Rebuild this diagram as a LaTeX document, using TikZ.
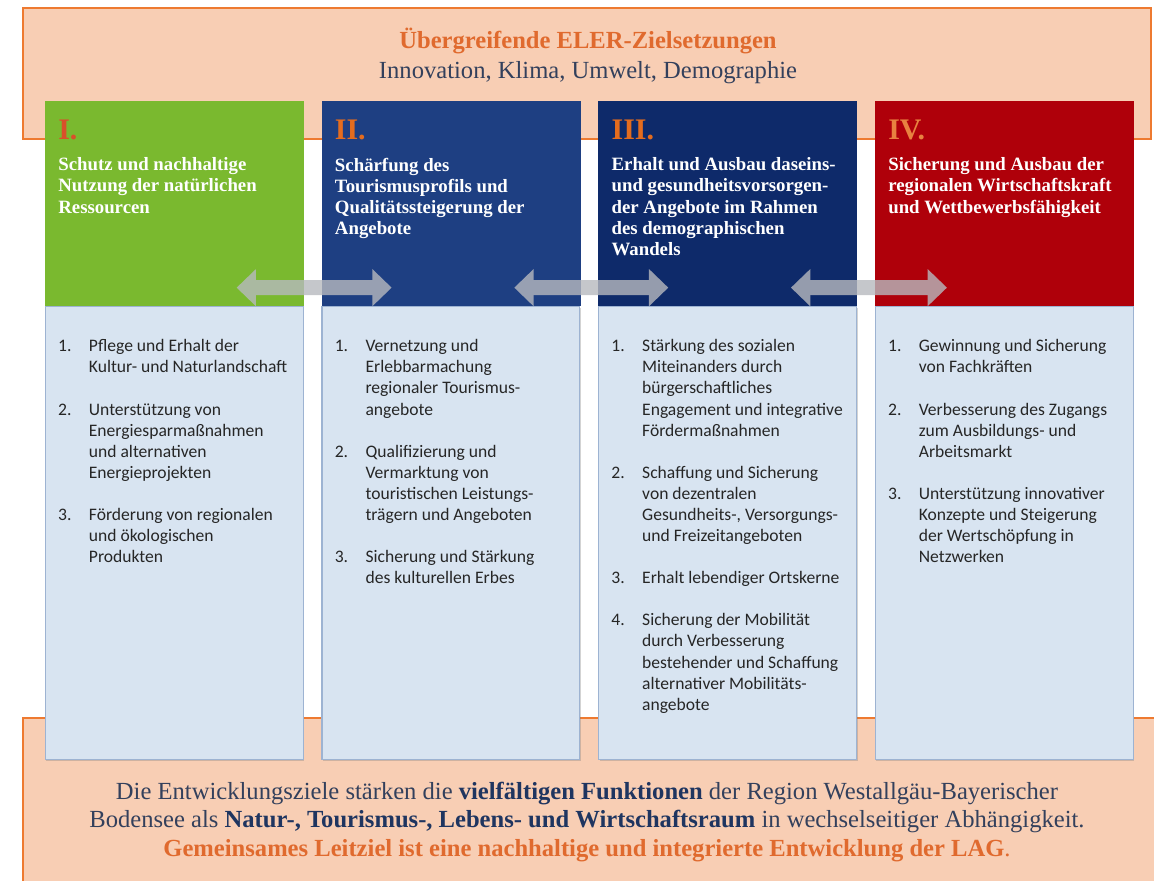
\documentclass[tikz,border=0pt]{standalone}
\usepackage{fontspec}
\setmainfont{Liberation Serif}
\newfontfamily\calfont{Carlito}
\usepackage{xcolor}
\usetikzlibrary{arrows.meta,positioning,calc,shadows}
\definecolor{peach}{HTML}{F8CEB4}
\definecolor{elerorange}{HTML}{EE7A30}
\definecolor{titleorange}{HTML}{E06A2E}
\definecolor{slate}{HTML}{33405C}
\definecolor{navy}{HTML}{1F3560}
\definecolor{leafgreen}{HTML}{7AB92F}
\definecolor{tourblue}{HTML}{1E3F82}
\definecolor{demonavy}{HTML}{0E2A6A}
\definecolor{econred}{HTML}{AF000A}
\definecolor{paleblue}{HTML}{D8E4F1}
\definecolor{paleedge}{HTML}{9DB3D2}
\definecolor{numorange}{HTML}{E46C1E}
\definecolor{numred}{HTML}{D9502A}
\definecolor{linkgrey}{HTML}{B7B9BE}
\definecolor{ink}{HTML}{262626}
\newcommand{\goallist}[1]{\begin{tabular}{@{}p{17.5pt}@{}l@{}}#1\end{tabular}}
\tikzset{
  banner/.style={rectangle, fill=peach, draw=elerorange, line width=1.4pt,
    inner sep=0pt, anchor=north west},
  headbox/.style={rectangle, fill=#1, draw=#1,
    minimum width=5.16cm, minimum height=4.08cm, inner sep=0pt},
  bodybox/.style={rectangle, fill=paleblue, draw=paleedge, line width=0.6pt,
    minimum width=5.16cm, minimum height=9.06cm, inner sep=0pt,
    drop shadow={shadow xshift=0.6pt, shadow yshift=-1.2pt, opacity=.35}},
  numlabel/.style={font=\fontsize{17}{17}\selectfont\bfseries, text=#1, inner sep=0pt},
  numlabel/.default=numorange,
  headtext/.style={font=\fontsize{10.7}{12}\selectfont\bfseries, text=white,
    align=left, inner sep=0pt},
  goaltext/.style={font=\calfont\fontsize{10}{12}\selectfont, text=ink, inner sep=0pt},
  linkarrow/.style={line width=8.5pt, draw=linkgrey,
    {Triangle[length=11pt,width=20.5pt]}-{Triangle[length=11pt,width=20.5pt]}},
}
\begin{document}
\begin{tikzpicture}[x=0.02cm, y=-0.02cm]
    \useasboundingbox (0,0) rectangle (1154,881);
    \node[banner, minimum width=22.56cm, minimum height=2.62cm] (eler) at (22,7) {};
    \node[banner, minimum width=22.8cm, minimum height=3.6cm] (region) at (22,717) {};
    \node[font=\fontsize{14}{17}\selectfont, text=slate, align=center, anchor=north] (elertitle) at (588,22)
      {\textcolor{titleorange}{\textbf{Übergreifende ELER-Zielsetzungen}}\\Innovation, Klima, Umwelt, Demographie};

    \node[headbox=leafgreen, anchor=north west] (head1) at (45,101) {};
    \node[headbox=tourblue, right=0.36cm of head1] (head2) {};
    \node[headbox=demonavy, right=0.36cm of head2] (head3) {};
    \node[headbox=econred, right=0.36cm of head3] (head4) {};
    \node[bodybox, below=0pt of head1] (body1) {};
    \node[bodybox, below=0pt of head2] (body2) {};
    \node[bodybox, below=0pt of head3] (body3) {};
    \node[bodybox, below=0pt of head4] (body4) {};

    \node[numlabel=numred, below right=0.38cm and 0.26cm of head1.north west] (num1) {I.};
    \node[numlabel, below right=0.38cm and 0.26cm of head2.north west] (num2) {II.};
    \node[numlabel, below right=0.38cm and 0.26cm of head3.north west] (num3) {III.};
    \node[numlabel=numorange!85!white, below right=0.38cm and 0.26cm of head4.north west] (num4) {IV.};

    \node[headtext, below right=1.13cm and 0.26cm of head1.north west] (aim1)
      {Schutz und nachhaltige\\Nutzung der natürlichen\\Ressourcen};
    \node[headtext, below right=1.13cm and 0.26cm of head2.north west] (aim2)
      {Schärfung des\\Tourismusprofils und\\Qualitätssteigerung der\\Angebote};
    \node[headtext, below right=1.13cm and 0.26cm of head3.north west] (aim3)
      {Erhalt und Ausbau daseins-\\und gesundheitsvorsorgen-\\der Angebote im Rahmen\\des demographischen\\Wandels};
    \node[headtext, below right=1.13cm and 0.26cm of head4.north west] (aim4)
      {Sicherung und Ausbau der\\regionalen Wirtschaftskraft\\und Wettbewerbsfähigkeit};

    \node[goaltext, below right=0.62cm and 0.26cm of body1.north west] (goals1) {\goallist{
      1. & Pflege und Erhalt der\\ & Kultur- und Naturlandschaft\\[12pt]
      2. & Unterstützung von\\ & Energiesparmaßnahmen\\ & und alternativen\\ & Energieprojekten\\[12pt]
      3. & Förderung von regionalen\\ & und ökologischen\\ & Produkten}};
    \node[goaltext, below right=0.62cm and 0.26cm of body2.north west] (goals2) {\goallist{
      1. & Vernetzung und\\ & Erlebbarmachung\\ & regionaler Tourismus-\\ & angebote\\[12pt]
      2. & Qualifizierung und\\ & Vermarktung von\\ & touristischen Leistungs-\\ & trägern und Angeboten\\[12pt]
      3. & Sicherung und Stärkung\\ & des kulturellen Erbes}};
    \node[goaltext, below right=0.62cm and 0.26cm of body3.north west] (goals3) {\goallist{
      1. & Stärkung des sozialen\\ & Miteinanders durch\\ & bürgerschaftliches\\ & Engagement und integrative\\ & Fördermaßnahmen\\[12pt]
      2. & Schaffung und Sicherung\\ & von dezentralen\\ & Gesundheits-, Versorgungs-\\ & und Freizeitangeboten\\[12pt]
      3. & Erhalt lebendiger Ortskerne\\[12pt]
      4. & Sicherung der Mobilität\\ & durch Verbesserung\\ & bestehender und Schaffung\\ & alternativer Mobilitäts-\\ & angebote}};
    \node[goaltext, below right=0.62cm and 0.26cm of body4.north west] (goals4) {\goallist{
      1. & Gewinnung und Sicherung\\ & von Fachkräften\\[12pt]
      2. & Verbesserung des Zugangs\\ & zum Ausbildungs- und\\ & Arbeitsmarkt\\[12pt]
      3. & Unterstützung innovativer\\ & Konzepte und Steigerung\\ & der Wertschöpfung in\\ & Netzwerken}};

    \coordinate (link1a) at ($(head1.south east)+(-67,-18)$);
    \coordinate (link1b) at ($(head2.south west)+(70,-18)$);
    \coordinate (link2a) at ($(head2.south east)+(-66,-18)$);
    \coordinate (link2b) at ($(head3.south west)+(70,-18)$);
    \coordinate (link3a) at ($(head3.south east)+(-66,-18)$);
    \coordinate (link3b) at ($(head4.south west)+(72,-18)$);
    \begin{scope}[transparency group, opacity=.8]
      \draw[linkarrow] (link1a) -- (link1b);
      \draw[linkarrow] (link2a) -- (link2b);
      \draw[linkarrow] (link3a) -- (link3b);
    \end{scope}

    \node[font=\fontsize{14}{16.2}\selectfont, text=slate, align=center, anchor=north] (summary) at (587,776)
      {Die Entwicklungsziele stärken die \textbf{\color{navy}vielfältigen Funktionen} der Region Westallgäu-Bayerischer\\
       Bodensee als \textbf{\color{navy}Natur-, Tourismus-, Lebens- und Wirtschaftsraum} in wechselseitiger Abhängigkeit.\\
       \textcolor{titleorange}{\textbf{Gemeinsames Leitziel ist eine nachhaltige und integrierte Entwicklung der LAG}.}};
\end{tikzpicture}
\end{document}
